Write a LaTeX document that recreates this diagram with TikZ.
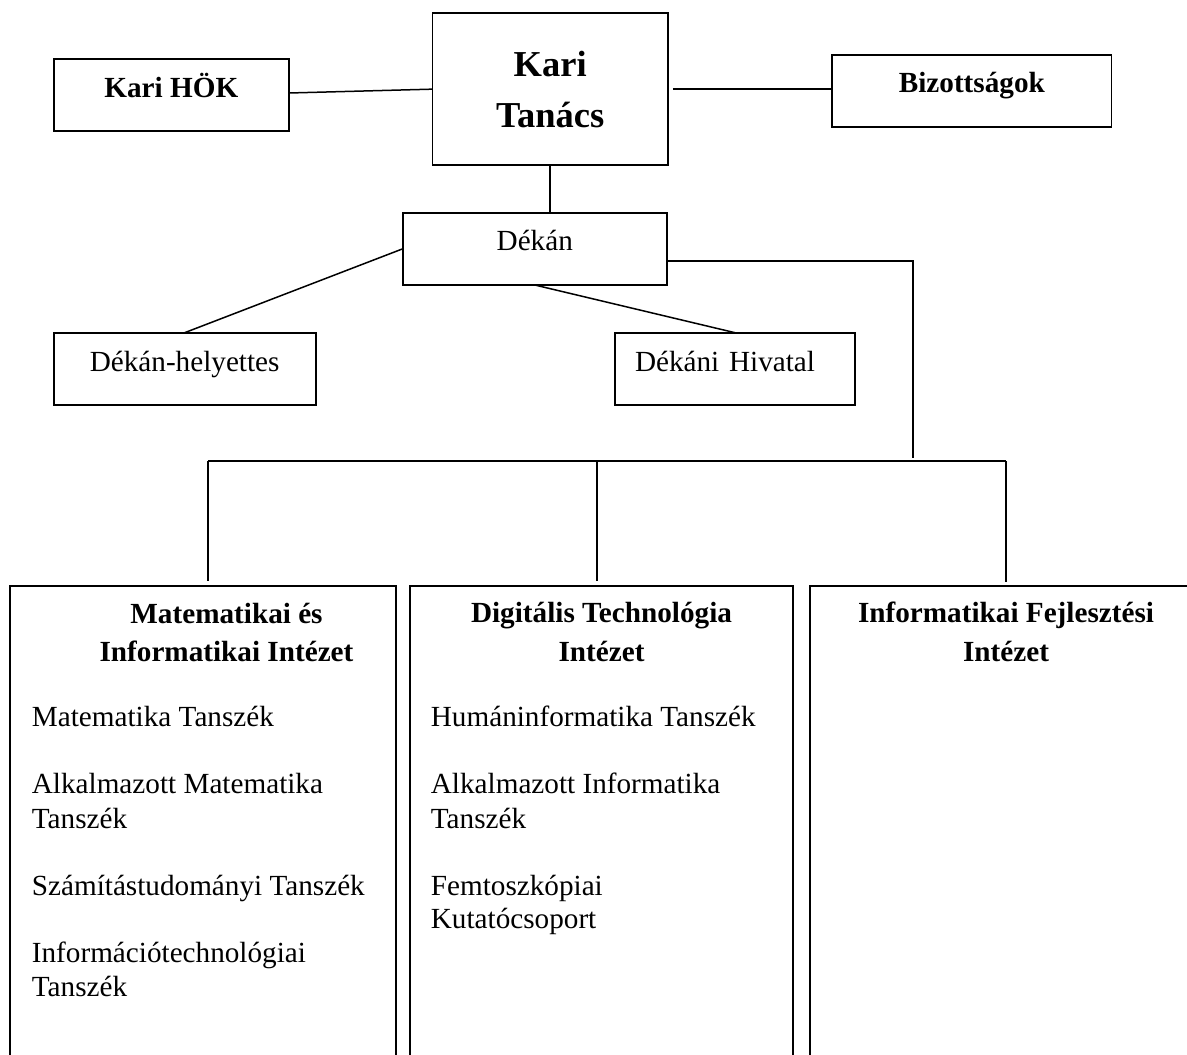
\documentclass[tikz,border=0pt]{standalone}
\usepackage{fontspec}
\setmainfont{Liberation Serif}
\begin{document}
\begin{tikzpicture}[x=1pt,y=-1pt,
  box/.style={draw, line width=1.8pt, inner sep=0pt, outer sep=0pt, anchor=north west},
  conn/.style={line width=1.5pt},
  reg/.style={font=\fontsize{29.2}{35}\selectfont, inner sep=0pt},
  bld/.style={font=\fontsize{29.2}{35}\selectfont\bfseries, inner sep=0pt},
]
\useasboundingbox (0,0) rectangle (1187,1055);
\clip (0,0) rectangle (1187,1055);

% top row
\node[box, bld, minimum width=235.4pt, text height=38.3pt, text depth=33.7pt] (hok) at (53.6,59) {Kari HÖK};
\node[box, font=\fontsize{36.5}{51}\selectfont\bfseries, align=center, minimum width=235.3pt, minimum height=151.7pt] (kt) at (432.5,13.3) {Kari\\Tanács};
\node[box, bld, minimum width=279.1pt, text height=37.3pt, text depth=34.4pt] (biz) at (832.3,55) {Bizottságok};

% dean level
\node[box, reg, minimum width=264.4pt, text height=37.3pt, text depth=35pt] (dekan) at (402.6,212.7) {Dékán};
\node[box, reg, minimum width=262.1pt, text height=38.3pt, text depth=34pt] (dh) at (53.6,332.7) {Dékán-helyettes};
\node[box, reg, inner xsep=20.2pt, text width=200.1pt, align=left, text height=38.3pt, text depth=34pt] (hiv) at (614.8,332.7) {Dékáni Hivatal};

% institutes
\node[box, minimum width=386pt, minimum height=520pt] (b1) at (10,585.7) {};
\node[box, minimum width=383.3pt, minimum height=520pt] (b2) at (410,585.7) {};
\node[box, minimum width=392pt, minimum height=520pt] (b3) at (810,585.7) {};

% box 1 texts
\node[bld, anchor=base] (t1a) at (226.5,623.3) {Matematikai és};
\node[bld, anchor=base] (t1b) at (226.5,661.7) {Informatikai Intézet};
\node[reg, anchor=base west] (d11) at (31.7,726.7) {Matematika Tanszék};
\node[reg, anchor=base west] (d12a) at (31.7,793.3) {Alkalmazott Matematika};
\node[reg, anchor=base west] (d12b) at (31.7,828.3) {Tanszék};
\node[reg, anchor=base west] (d13) at (31.7,895) {Számítástudományi Tanszék};
\node[reg, anchor=base west] (d14a) at (31.7,962.7) {Információtechnológiai};
\node[reg, anchor=base west] (d14b) at (31.7,996.7) {Tanszék};

% box 2 texts
\node[bld, anchor=base] (t2a) at (601.5,622.7) {Digitális Technológia};
\node[bld, anchor=base] (t2b) at (601.5,661.7) {Intézet};
\node[reg, anchor=base west] (d21) at (430.7,726.7) {Humáninformatika Tanszék};
\node[reg, anchor=base west] (d22a) at (430.7,793.3) {Alkalmazott Informatika};
\node[reg, anchor=base west] (d22b) at (430.7,828.3) {Tanszék};
\node[reg, anchor=base west] (d23a) at (430.7,895) {Femtoszkópiai};
\node[reg, anchor=base west] (d23b) at (430.7,928.3) {Kutatócsoport};

% box 3 texts
\node[bld, anchor=base] (t3a) at (1006,622.7) {Informatikai Fejlesztési};
\node[bld, anchor=base] (t3b) at (1006,661.7) {Intézet};

% connectors
\draw[conn] ([yshift=2pt]hok.east) -- (kt.west);
\draw[conn] ([xshift=5pt]kt.east) -- (kt.east -| biz.west);
\draw[conn] (kt.south) -- (kt.south |- dekan.north);
\draw[conn] (dekan.west) -- (dh.north);
\draw[conn] (dekan.south) -- (hiv.north);

\coordinate (busL) at (208,461);
\coordinate (busM) at (597,461);
\coordinate (busR) at (1006,461);
\coordinate (busJ) at (913,461);
\draw[conn] ([yshift=-12pt]dekan.east) -| ([yshift=3pt]busJ);
\draw[conn] (busL) -- (busR);
\draw[conn, shorten >=5pt] (busL) -- (busL |- b1.north);
\draw[conn, shorten >=5pt] (busM) -- (busM |- b2.north);
\draw[conn, shorten >=4pt] (busR) -- (busR |- b3.north);
\end{tikzpicture}
\end{document}
